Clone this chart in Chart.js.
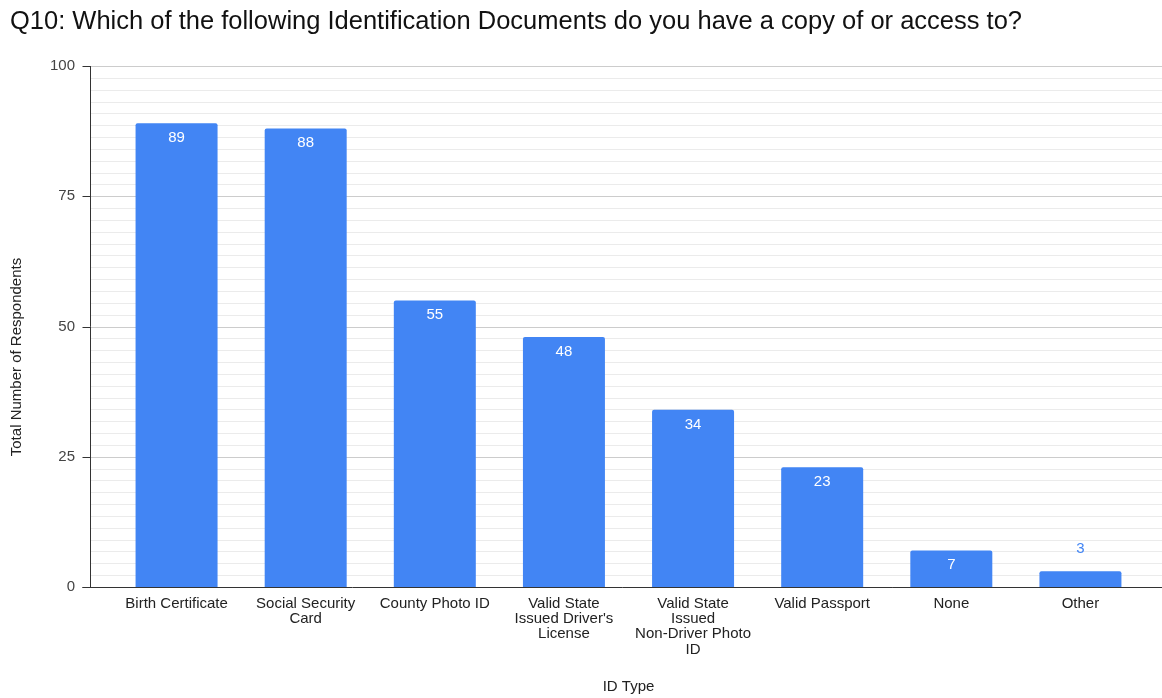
<!DOCTYPE html>
<html>
<head>
<meta charset="utf-8">
<title>Q10 ID Documents</title>
<script src="https://cdn.jsdelivr.net/npm/chart.js@4"></script>
<style>
  html, body { margin: 0; padding: 0; background: #fff; }
  #wrap { width: 1162px; height: 698px; }
</style>
</head>
<body>
<div id="wrap"><canvas id="idChart" width="1162" height="698"></canvas></div>
<script>
const idTypes = [
    'Birth Certificate',
    ['Social Security', 'Card'],
    'County Photo ID',
    ['Valid State', "Issued Driver's", 'License'],
    ['Valid State', 'Issued', 'Non-Driver Photo', 'ID'],
    'Valid Passport',
    'None',
    'Other'
]
const respondents = [89, 88, 55, 48, 34, 23, 7, 3]
const yTicks = [0, 25, 50, 75, 100]
const minorPerMajor = 11

const blue = '#4285f4'
const font = '"Liberation Sans", Arial, sans-serif'

// gridlines run past the plot on both sides, so they get drawn by hand
const gridLines = {
    id: 'gridLines',
    beforeDatasetsDraw(chart) {
        const { ctx, chartArea } = chart
        const y = chart.scales.y
        const x0 = chartArea.left - 22
        const x1 = chart.width
        ctx.save()
        ctx.lineWidth = 1
        const step = 25 / minorPerMajor
        for (let i = 0; i <= 4 * minorPerMajor; i++) {
            if (i % minorPerMajor === 0) continue
            const py = Math.round(y.getPixelForValue(i * step)) + 0.5
            ctx.strokeStyle = '#ebebeb'
            ctx.beginPath(); ctx.moveTo(x0, py); ctx.lineTo(x1, py); ctx.stroke()
        }
        for (let v of yTicks) {
            if (v === 0) continue
            const py = Math.round(y.getPixelForValue(v)) + 0.5
            ctx.strokeStyle = '#cccccc'
            ctx.beginPath(); ctx.moveTo(x0, py); ctx.lineTo(x1, py); ctx.stroke()
        }
        ctx.restore()
    },
    afterDatasetsDraw(chart) {
        const { ctx, chartArea } = chart
        const y = chart.scales.y
        const ax = chartArea.left - 22 + 0.5
        const base = Math.round(y.getPixelForValue(0)) + 0.5
        ctx.save()
        ctx.strokeStyle = '#333'
        ctx.lineWidth = 1
        ctx.beginPath()
        ctx.moveTo(ax, y.getPixelForValue(100))
        ctx.lineTo(ax, base)
        ctx.moveTo(ax - 8, base)
        ctx.lineTo(chart.width, base)
        for (let v of yTicks) {
            const py = Math.round(y.getPixelForValue(v)) + 0.5
            ctx.moveTo(ax - 8, py)
            ctx.lineTo(ax, py)
        }
        ctx.stroke()

        // y axis title
        ctx.fillStyle = '#222'
        ctx.font = '15px ' + font
        ctx.textAlign = 'center'
        ctx.textBaseline = 'middle'
        ctx.translate(17, 357)
        ctx.rotate(-Math.PI / 2)
        ctx.fillText('Total Number of Respondents', 0, 0)
        ctx.restore()
    }
}

// value labels: inside the bar top, or above it when the bar is short
const barValues = {
    id: 'barValues',
    afterDatasetsDraw(chart) {
        const { ctx } = chart
        const meta = chart.getDatasetMeta(0)
        ctx.save()
        ctx.font = '15px ' + font
        ctx.textAlign = 'center'
        ctx.textBaseline = 'middle'
        meta.data.forEach((bar, i) => {
            const h = bar.base - bar.y
            if (h > 30) {
                ctx.fillStyle = '#ffffff'
                ctx.fillText(respondents[i], bar.x, bar.y + 14.5)
            } else {
                ctx.fillStyle = blue
                ctx.fillText(respondents[i], bar.x, bar.y - 23)
            }
        })
        ctx.restore()
    }
}

const ctx = document.getElementById('idChart').getContext('2d')
const idChart = new Chart(ctx, {
    type: 'bar',
    data: {
        labels: idTypes,
        datasets: [{
            label: 'Total Number of Respondents',
            data: respondents,
            backgroundColor: blue,
            borderRadius: { topLeft: 2, topRight: 2 },
            borderSkipped: 'start',
            categoryPercentage: 1,
            barPercentage: 0.635
        }]
    },
    options: {
        responsive: false,
        animation: false,
        layout: { padding: { left: 10, right: 17, top: 0, bottom: 0 } },
        plugins: {
            legend: { display: false },
            tooltip: { enabled: false },
            title: {
                display: true,
                text: 'Q10: Which of the following Identification Documents do you have a copy of or access to?',
                align: 'start',
                color: '#111',
                font: { family: font, size: 25.5, weight: 'normal', lineHeight: 1.2 },
                padding: { top: 7, bottom: 28.4 }
            }
        },
        scales: {
            x: {
                grid: { display: false },
                border: { display: false },
                ticks: {
                    color: '#222',
                    font: { family: font, size: 15, lineHeight: 1.02 },
                    padding: 1,
                    maxRotation: 0,
                    autoSkip: false
                },
                title: {
                    display: true,
                    text: 'ID Type',
                    color: '#222',
                    font: { family: font, size: 15, lineHeight: 1.2 },
                    padding: { top: 0, bottom: 2 }
                },
                afterFit(scale) { scale.height = 111 }
            },
            y: {
                min: 0,
                max: 100,
                grid: { display: false },
                border: { display: false },
                afterBuildTicks(scale) {
                    scale.ticks = yTicks.map(v => ({ value: v }))
                },
                ticks: {
                    color: '#444',
                    font: { family: font, size: 15 },
                    padding: 29
                },
                afterFit(scale) { scale.width = 102 }
            }
        }
    },
    plugins: [gridLines, barValues]
})
</script>
</body>
</html>
